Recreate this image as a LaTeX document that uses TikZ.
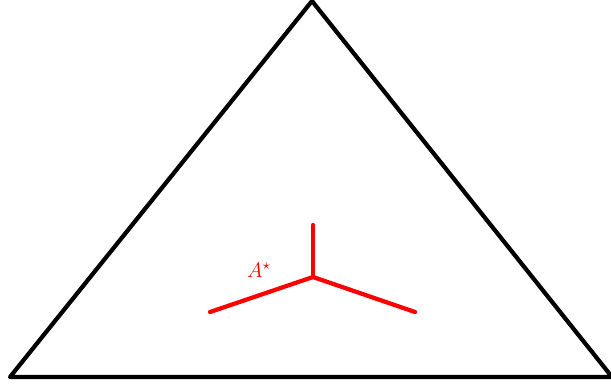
\documentclass[tikz,border=0pt]{standalone}
\begin{document}
\begin{tikzpicture}[x=0.02cm, y=0.02cm, line join=round, line cap=round]
	\useasboundingbox (0,0) rectangle (611,383);
	
	% Tam giác
	\coordinate (P1) at (10,6);
	\coordinate (P2) at (612,6);
	\coordinate (P3) at (312,382);
	\draw[line width=2.4pt] (P1) -- (P2) -- (P3) -- cycle;
	
	% Điểm A* và ba nhánh
	\coordinate (A) at (313,106);
	\coordinate (U) at (313,158);
	\coordinate (L) at (210,71);
	\coordinate (R) at (415,71);
	\draw[red, line width=2.4pt] (A) -- (U);
	\draw[red, line width=2.4pt] (A) -- (L);
	\draw[red, line width=2.4pt] (A) -- (R);
	\node[red, font=\large] (lbl) at (259,113) {$A^\star$};
\end{tikzpicture}
\end{document}
